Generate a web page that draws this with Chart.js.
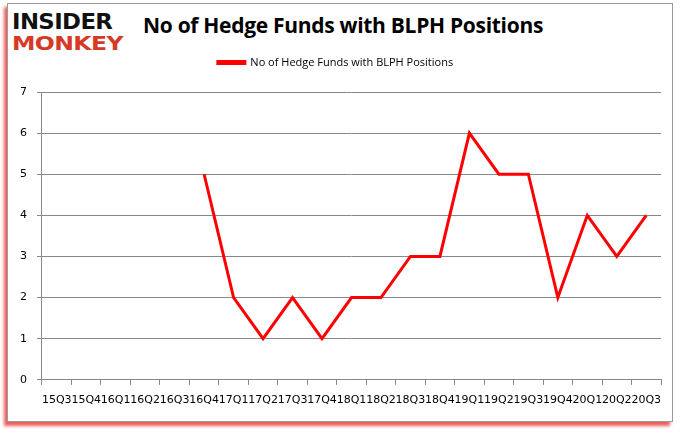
<!DOCTYPE html>
<html>
<head>
<meta charset="utf-8">
<script src="https://cdn.jsdelivr.net/npm/chart.js@4.4.1/dist/chart.umd.min.js"></script>
<style>
  html, body { margin: 0; padding: 0; background: #fff; }
  body { width: 680px; height: 433px; position: relative; overflow: hidden; font-family: "Open Sans", sans-serif; }
  #frame {
    position: absolute; left: 7px; top: 3px; width: 664px; height: 417px;
    border: 1px solid #9a9a9a; background: #fff;
    box-shadow: -3px 4px 3px rgba(230, 40, 40, 0.75);
  }
  #logo { position: absolute; left: 12px; top: 11px; font-family: "DejaVu Sans", sans-serif; font-weight: bold; line-height: 1; letter-spacing: -0.5px; }
  #logo .a { color: #111; font-size: 19px; transform: scale(1.2, 1.1); transform-origin: top left; display: block; }
  #logo .b { color: #d63a26; font-size: 19px; margin-top: 3px; transform: scale(1.24, 1.05); transform-origin: top left; display: block; }
  #title { position: absolute; left: 143px; top: 11px; font-family: "Open Sans", sans-serif; font-weight: bold; font-size: 21px; color: #000; letter-spacing: -0.3px; }
  canvas { position: absolute; left: 0; top: 0; }
</style>
</head>
<body>
<div id="frame"></div>
<div id="logo"><span class="a">INSIDER</span><span class="b">MONKEY</span></div>
<div id="title">No of Hedge Funds with BLPH Positions</div>
<canvas id="myChart" width="680" height="433"></canvas>
<script>
// Dados do gráfico
const quarters = ["15Q3", "15Q4", "16Q1", "16Q2", "16Q3", "16Q4", "17Q1", "17Q2", "17Q3", "17Q4",
  "18Q1", "18Q2", "18Q3", "18Q4", "19Q1", "19Q2", "19Q3", "19Q4", "20Q1", "20Q2", "20Q3"];
const hedgeFunds = [null, null, null, null, null, 5, 2, 1, 2, 1,
  2, 2, 3, 3, 6, 5, 5, 2, 4, 3, 4];
const yTicks = [0, 1, 2, 3, 4, 5, 6, 7];
const seriesName = "No of Hedge Funds with BLPH Positions";

// Espaço extra abaixo da legenda
const legendSpacer = {
  id: "legendSpacer",
  beforeInit(chart) {
    const fit = chart.legend.fit;
    chart.legend.fit = function () {
      fit.bind(chart.legend)();
      this.height += 14;
    };
  },
};

const config = {
  type: "line",
  data: {
    labels: quarters,
    datasets: [
      {
        label: seriesName,
        data: hedgeFunds,
        borderColor: "#ff0000",
        backgroundColor: "#ff0000",
        borderWidth: 3,
        pointRadius: 0,
        fill: false,
        tension: 0,
        spanGaps: false,
      },
    ],
  },
  options: {
    responsive: false,
    animation: false,
    layout: { padding: { left: 10, right: 19, top: 52, bottom: 17 } },
    plugins: {
      title: { display: false },
      tooltip: { enabled: false },
      legend: {
        display: true,
        position: "top",
        labels: {
          boxWidth: 27,
          boxHeight: 2,
          color: "#000",
          font: { family: "Open Sans", size: 11 },
          padding: 5,
        },
      },
    },
    scales: {
      x: {
        offset: true,
        grid: { offset: true, drawOnChartArea: false, color: "#888", tickLength: 5 },
        border: { color: "#888" },
        ticks: {
          autoSkip: false,
          maxRotation: 0,
          minRotation: 0,
          color: "#000",
          padding: 9,
          font: { family: "DejaVu Sans", size: 11 },
        },
      },
      y: {
        min: 0,
        max: 7,
        afterBuildTicks: (axis) => { axis.ticks = yTicks.map((v) => ({ value: v })); },
        grid: { color: "#888", tickLength: 5 },
        border: { color: "#888" },
        ticks: {
          color: "#000",
          padding: 10,
          font: { family: "DejaVu Sans", size: 11 },
        },
      },
    },
  },
  plugins: [legendSpacer],
};

const ctx = document.getElementById("myChart").getContext("2d");
const myChart = new Chart(ctx, config);
</script>
</body>
</html>
